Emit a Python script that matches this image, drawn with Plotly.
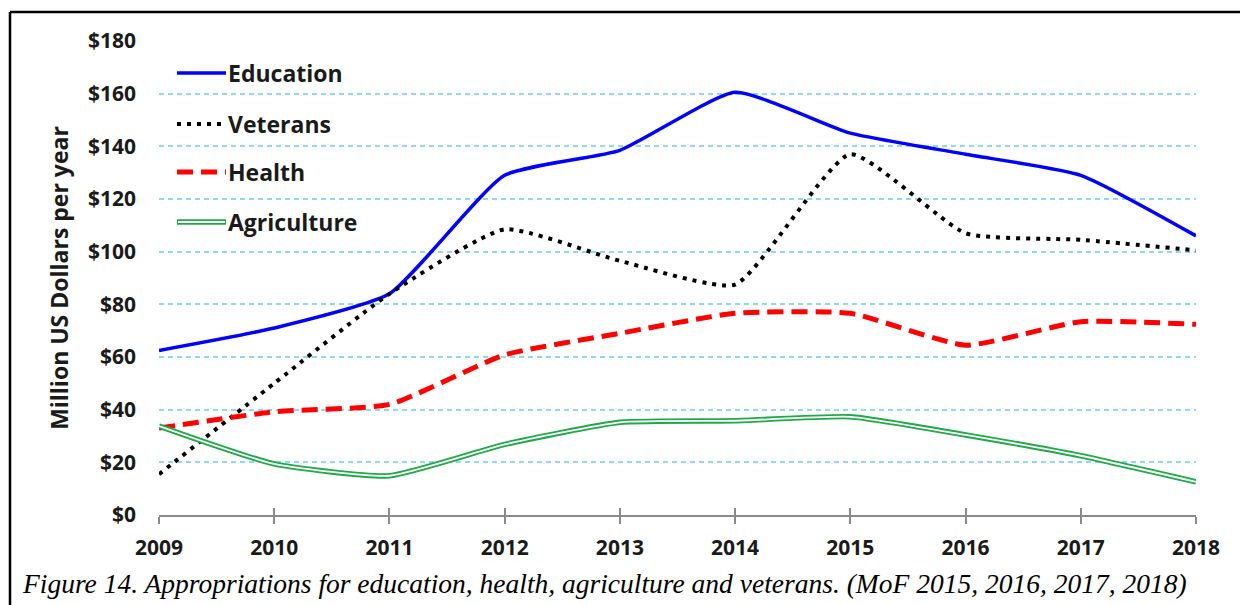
import plotly.graph_objects as go

years = [2009, 2010, 2011, 2012, 2013, 2014, 2015, 2016, 2017, 2018]
education = [62.5, 71, 84, 129, 138.5, 160.5, 145, 137, 129, 106]
veterans = [15.5, 50, 84, 108.5, 96.5, 87.5, 137, 107, 104.5, 100.5]
health = [33, 39.2, 42, 60.8, 69, 76.6, 76.6, 64.5, 73.4, 72.4]
agriculture = [33.8, 19.4, 14.9, 26.8, 35.2, 35.8, 37.3, 30.4, 22.5, 12.6]

y_ticks = [0, 20, 40, 60, 80, 100, 120, 140, 160, 180]
y_tick_labels = ["$0", "$20", "$40", "$60", "$80", "$100", "$120", "$140", "$160", "$180"]

series_names = ["Education", "Veterans", "Health", "Agriculture"]
caption = ("Figure 14. Appropriations for education, health, agriculture and veterans. "
           "(MoF 2015, 2016, 2017, 2018)")

# The page body has an 8px margin; the figure is sized to fit inside the window.
OFF = 8
W, H = 1248 - 2 * OFF, 605 - OFF
# plot area in screen pixels
L, R, T, B = 159, 1196, 41, 515

def px(x):
    return (x - L) / (R - L)

def py(y):
    return (B - y) / (B - T)

FONT = "Open Sans"
TXT = "#1a1a1a"
BLUE = "#0000ff"
RED = "#ff0000"
GREEN = "#22a84a"
GRID = "#92d6ef"
AX = "#8a8a8a"

fig = go.Figure()
SM = 0.5
fig.add_trace(go.Scatter(x=years, y=education, mode="lines", name=series_names[0],
                         line=dict(color=BLUE, width=3.5, shape="spline", smoothing=SM)))
fig.add_trace(go.Scatter(x=years, y=veterans, mode="lines", name=series_names[1],
                         line=dict(color="#000000", width=4, dash="4px,6px", shape="spline", smoothing=SM)))
fig.add_trace(go.Scatter(x=years, y=health, mode="lines", name=series_names[2],
                         line=dict(color=RED, width=5, dash="16px,8px", shape="spline", smoothing=SM)))
fig.add_trace(go.Scatter(x=years, y=agriculture, mode="lines", name=series_names[3],
                         line=dict(color=GREEN, width=5.5, shape="spline", smoothing=SM)))
fig.add_trace(go.Scatter(x=years, y=agriculture, mode="lines", showlegend=False, xaxis="x2",
                         line=dict(color="#ffffff", width=1.8, shape="spline", smoothing=SM)))

fig.update_layout(
    width=W, height=H,
    margin=dict(l=L - OFF, r=W - (R - OFF), t=T - OFF, b=H - (B - OFF), pad=0),
    paper_bgcolor="white", plot_bgcolor="white",
    showlegend=False,
    xaxis=dict(range=[2009, 2018], tickvals=years, ticktext=[str(y) for y in years],
               showgrid=False, zeroline=False, showline=True, linecolor=AX, linewidth=1.5,
               ticks="outside", ticklen=7, tickwidth=1.5, tickcolor=AX,
               tickfont=dict(family=FONT, size=21, color=TXT, weight="bold"),
               ticklabelstandoff=6),
    xaxis2=dict(range=[2009, 2018], overlaying="x", anchor="y", matches="x", tickvals=years,
                showgrid=False, zeroline=False, showline=False, showticklabels=False,
                ticks="inside", ticklen=7, tickwidth=1.5, tickcolor=AX),
    yaxis=dict(range=[0, 180], tickvals=y_ticks, ticktext=y_tick_labels,
               showgrid=True, gridcolor=GRID, gridwidth=2, griddash="5px,4px",
               zeroline=False, showline=False, ticks="",
               tickfont=dict(family=FONT, size=21, color=TXT, weight="bold"),
               ticklabelstandoff=22,
               title=dict(text="Million US Dollars per year", standoff=12,
                          font=dict(family=FONT, size=23, color=TXT, weight="bold"))),
)

shapes = []
# frame lines (screen coords y=12, x=10)
shapes.append(dict(type="line", xref="paper", yref="paper", x0=px(10), x1=px(1270), y0=py(12), y1=py(12),
                   line=dict(color="black", width=2.5)))
shapes.append(dict(type="line", xref="paper", yref="paper", x0=px(10), x1=px(10), y0=py(12), y1=py(640),
                   line=dict(color="black", width=2.5)))

# manual legend
leg_y = [73, 124, 172, 222]
lx0, lx1 = 177, 226
styles = [
    dict(color=BLUE, width=3.5),
    dict(color="black", width=4, dash="4px,6px"),
    dict(color=RED, width=5, dash="16px,8px"),
    dict(color=GREEN, width=5.5),
]
for yy, st in zip(leg_y, styles):
    shapes.append(dict(type="line", xref="paper", yref="paper", x0=px(lx0), x1=px(lx1),
                       y0=py(yy), y1=py(yy), line=st))
shapes.append(dict(type="line", xref="paper", yref="paper", x0=px(lx0 + 1), x1=px(lx1 - 1),
                   y0=py(leg_y[3]), y1=py(leg_y[3]), line=dict(color="white", width=1.8)))

annotations = []
for yy, name in zip(leg_y, series_names):
    annotations.append(dict(xref="paper", yref="paper", x=px(226), y=py(yy), text=name,
                            showarrow=False, xanchor="left", yanchor="middle",
                            font=dict(family=FONT, size=23, color=TXT, weight="bold")))
annotations.append(dict(xref="paper", yref="paper", x=px(20), y=py(583), text=caption,
                        showarrow=False, xanchor="left", yanchor="middle",
                        font=dict(family="Liberation Serif", size=27.5, color="black", style="italic")))

fig.update_layout(shapes=shapes, annotations=annotations)
fig.write_html("out.html")
